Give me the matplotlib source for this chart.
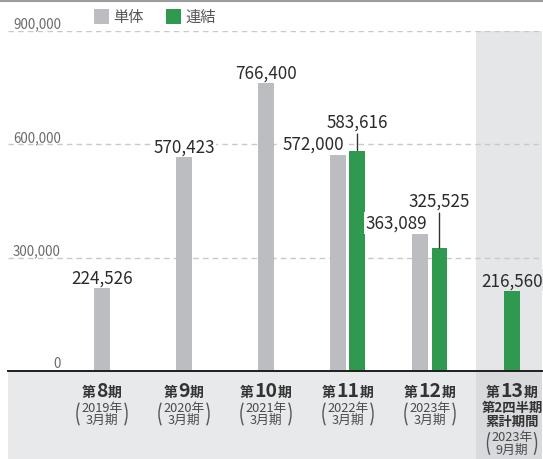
import numpy as np
import matplotlib
matplotlib.use('Agg')
import matplotlib.pyplot as plt
import matplotlib.transforms as mtransforms
from matplotlib.patches import Rectangle, Arc
from matplotlib.lines import Line2D

plt.rcParams['font.family'] = ['Noto Sans CJK JP', 'DejaVu Sans']

# data
periods = ['8', '9', '10', '11', '12', '13']
sub_lines = [['2019年', '3月期'], ['2020年', '3月期'], ['2021年', '3月期'],
             ['2022年', '3月期'], ['2023年', '3月期'], ['2023年', '9月期']]
extra_13 = ['第2四半期', '累計期間']
tantai = [224526, 570423, 766400, 572000, 363089, np.nan]
renketsu = [np.nan, np.nan, np.nan, 583616, 325525, 216560]
yticks = [0, 300000, 600000, 900000]
legend_names = ['単体', '連結']

GRAY = '#bcbdc1'
GREEN = '#2f9a4f'
TXT = '#2b2b2b'

W, H = 543, 460
fig = plt.figure(figsize=(W / 100, H / 100), dpi=100)
fig.patch.set_facecolor('white')
ax = fig.add_axes([8 / W, 88 / H, 534 / W, 340 / H])
ax.set_xlim(-1.146, 5.366)
ax.set_ylim(0, 900000)
for s in ax.spines.values():
    s.set_visible(False)
ax.set_xticks([])
ax.set_yticks(yticks)
ax.tick_params(axis='y', length=0, labelleft=False)
ax.set_axisbelow(True)
ax.grid(axis='y', color='#c9c9c9', lw=1, linestyle=(0, (4, 3)))

# shaded column for the latest period
shade_x0 = 4.56
ax.axvspan(shade_x0, 5.366, color='#e5e6e8', lw=0, zorder=0.2)

x = np.arange(len(periods))
bw = 0.195
off = 0.116

# label layout: (dx px, dy px, ha, leader line)
lab_gray = {3: (6, 6, 'right', False), 4: (7, 6, 'right', False)}
lab_green = {3: (0, 23.5, 'center', True), 4: (0, 42, 'center', True)}


def put_label(xc, val, spec, shaded):
    dx, dy, ha, leader = spec
    fc = '#e5e6e8' if shaded else 'white'
    kw = dict(xy=(xc, val), xytext=(dx, dy), textcoords='offset pixels',
              ha=ha, va='baseline', fontsize=12.3, color=TXT, zorder=4,
              bbox=dict(boxstyle='square,pad=0.1', fc=fc, ec='none'))
    if leader:
        kw['arrowprops'] = dict(arrowstyle='-', color='#333333', lw=1.0,
                                shrinkA=1, shrinkB=0)
    ax.annotate(f'{val:,.0f}', **kw)


for i in x:
    g, r = tantai[i], renketsu[i]
    both = not np.isnan(g) and not np.isnan(r)
    if not np.isnan(g):
        xg = i - off if both else i
        ax.bar(xg, g, width=bw, color=GRAY, zorder=2)
        put_label(xg, g, lab_gray.get(i, (0, 4, 'center', False)), i == 5)
    if not np.isnan(r):
        xr = i + off if both else i
        ax.bar(xr, r, width=bw, color=GREEN, zorder=2)
        put_label(xr, r, lab_green.get(i, (0, 4, 'center', False)), i == 5)

# baseline
ax.axhline(0, color='#1e1e1e', lw=1.4, zorder=3, clip_on=False)

# y tick labels
for v in yticks:
    ax.annotate(f'{v:,}', xy=(0, v), xycoords=('axes fraction', 'data'),
                xytext=(53, 3.5), textcoords='offset pixels', ha='right',
                va='baseline', fontsize=9.6, color='#6a6a6a')

# bottom label band
band_h = 87 / H
tr_band = mtransforms.blended_transform_factory(ax.transAxes, fig.transFigure)
fig.add_artist(Rectangle((0, 0), 1, band_h, transform=tr_band,
                         fc='#e8e9eb', ec='none', zorder=0))
tr_col = mtransforms.blended_transform_factory(ax.transData, fig.transFigure)
fig.add_artist(Rectangle((shade_x0, 0), 5.366 - shade_x0, band_h, transform=tr_col,
                         fc='#d9dadd', ec='none', zorder=0.1))


def fy(ypx):
    return 1 - ypx / H


def paren(cx, ytop, ybot, half):
    h = ybot - ytop
    sag = 3.0
    R = ((h / 2) ** 2 + sag ** 2) / (2 * sag)
    th = np.degrees(np.arcsin((h / 2) / R))
    yc = (ytop + ybot) / 2
    for side in (-1, 1):
        xc = cx + side * (half - R)
        a0 = 180 - th if side < 0 else -th
        a1 = 180 + th if side < 0 else th
        fig.add_artist(Arc((xc / W, fy(yc)), 2 * R / W, 2 * R / H, theta1=a0,
                           theta2=a1, transform=fig.transFigure,
                           color='#555555', lw=1.0))


renderer = fig.canvas.get_renderer()
for i, p in enumerate(periods):
    cx = ax.transData.transform((i, 0))[0]
    t = fig.text(cx / W, fy(397), p, fontsize=14, fontweight='bold',
                 ha='center', va='baseline', color='#333333')
    w = t.get_window_extent(renderer).width
    fig.text((cx - w / 2 - 0.5) / W, fy(397), '第', fontsize=10, fontweight='bold',
             ha='right', va='baseline', color='#333333')
    fig.text((cx + w / 2 + 0.5) / W, fy(397), '期', fontsize=10, fontweight='bold',
             ha='left', va='baseline', color='#333333')
    if i == 5:
        for k, s in enumerate(extra_13):
            fig.text(cx / W, fy(411.5 + 14 * k), s, fontsize=9.6, fontweight='bold',
                     ha='center', va='baseline', color='#333333')
        base = 441.5
        half = 24.5
    else:
        base = 412
        half = 25
    for k, s in enumerate(sub_lines[i]):
        fig.text(cx / W, fy(base + 12 * k), s, fontsize=9.2, ha='center',
                 va='baseline', color='#4a4a4a')
    paren(cx, base - 10, base + 16, half)

# top rule
fig.add_artist(Line2D([0, 542 / W], [fy(1.5), fy(1.5)], color='#9c9c9c', lw=1.5))

# legend
for k, (name, col) in enumerate(zip(legend_names, [GRAY, GREEN])):
    x0 = 94 + 72 * k
    fig.add_artist(Rectangle((x0 / W, fy(25)), 15 / W, 15 / H,
                             transform=fig.transFigure, fc=col, ec='none'))
    fig.text((x0 + 19) / W, fy(17.5), name, fontsize=11, ha='left', va='center',
             color='#555555')

fig.savefig('out.png', dpi=100)
